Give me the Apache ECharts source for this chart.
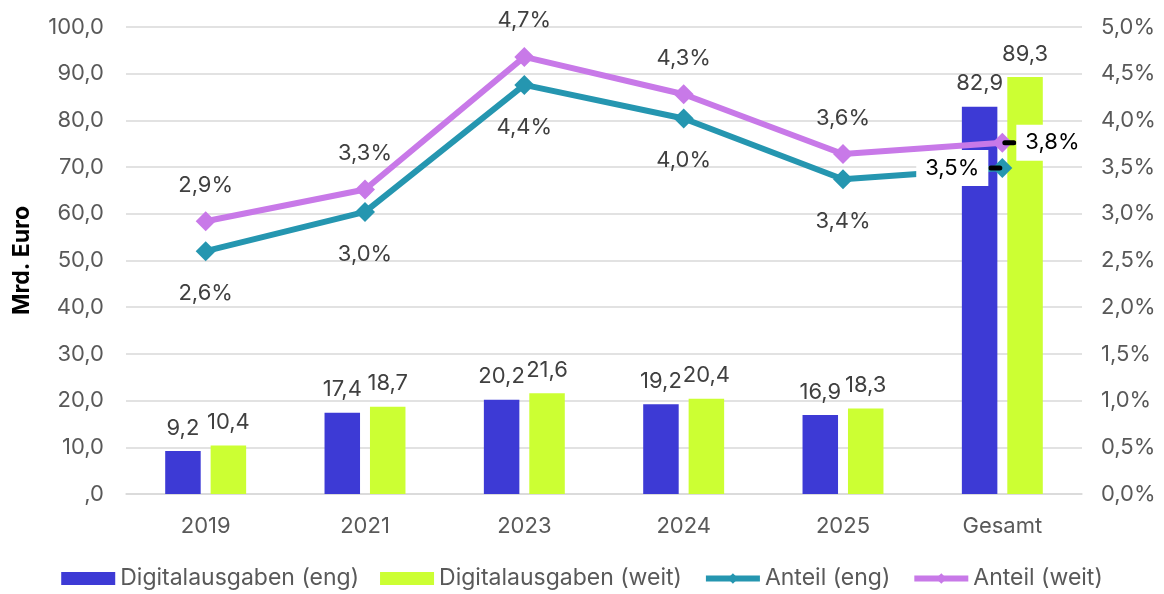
<!DOCTYPE html>
<html>
<head>
<meta charset="utf-8">
<script src="https://cdn.jsdelivr.net/npm/echarts@6/dist/echarts.min.js"></script>
<style>
html,body{margin:0;padding:0;background:#fff;}
#chart{width:1164px;height:594px;}
</style>
</head>
<body>
<div id="chart"></div>
<script>
const categories = ['2019', '2021', '2023', '2024', '2025', 'Gesamt'];
const engSpend = [9.2, 17.4, 20.2, 19.2, 16.9, 82.9];
const weitSpend = [10.4, 18.7, 21.6, 20.4, 18.3, 89.3];
const engShare = [2.60, 3.02, 4.38, 4.02, 3.37, 3.49];
const weitShare = [2.92, 3.26, 4.68, 4.28, 3.64, 3.76];
const seriesNames = ['Digitalausgaben (eng)', 'Digitalausgaben (weit)', 'Anteil (eng)', 'Anteil (weit)'];

const FONT = 'Inter';
const fmt1 = v => v.toFixed(1).replace('.', ',');

const chart = echarts.init(document.getElementById('chart'));

function shareData(arr, side) {
  return arr.map((v, i) => {
    if (i !== arr.length - 1) return v;
    return {
      value: v,
      label: {
        position: side,
        distance: -10,
        formatter: p => side === 'left'
          ? '{box|' + fmt1(p.value) + '%}{ln|}'
          : '{ln|}{box|' + fmt1(p.value) + '%}',
        rich: {
          box: { backgroundColor: '#ffffff', padding: [7, 9], color: '#000000', fontSize: 22, fontFamily: FONT },
          ln: { width: 14, height: 5, backgroundColor: '#000000', borderRadius: 2.5 }
        }
      }
    };
  });
}

const option = {
  backgroundColor: '#ffffff',
  textStyle: { fontFamily: FONT },
  grid: { left: 126, right: 82, top: 27, bottom: 100 },
  legend: {
    top: 562,
    left: 'center',
    itemWidth: 54,
    itemHeight: 13,
    itemGap: 21,
    textStyle: { fontSize: 23, color: '#595959', fontFamily: FONT },
    lineStyle: { width: 6 },
    data: [
      { name: seriesNames[0], icon: 'rect' },
      { name: seriesNames[1], icon: 'rect' },
      { name: seriesNames[2] },
      { name: seriesNames[3] }
    ]
  },
  xAxis: {
    type: 'category',
    data: categories,
    axisLine: { lineStyle: { color: '#d9d9d9', width: 1.5 } },
    axisTick: { show: false },
    axisLabel: { fontSize: 22, color: '#595959', margin: 21, fontFamily: FONT }
  },
  yAxis: [
    {
      type: 'value', min: 0, max: 100, interval: 10,
      name: 'Mrd. Euro', nameLocation: 'middle', nameGap: 92, nameRotate: 90,
      nameTextStyle: { fontSize: 23, fontWeight: 'bold', color: '#000000', fontFamily: FONT },
      axisLine: { show: false }, axisTick: { show: false },
      splitLine: { lineStyle: { color: '#d9d9d9', width: 1.5 } },
      axisLabel: { fontSize: 22, color: '#595959', margin: 22, fontFamily: FONT,
        formatter: v => v === 0 ? ',0' : fmt1(v) }
    },
    {
      type: 'value', min: 0, max: 5, interval: 0.5,
      axisLine: { show: false }, axisTick: { show: false },
      splitLine: { show: false },
      axisLabel: { fontSize: 22, color: '#595959', margin: 19, fontFamily: FONT,
        formatter: v => fmt1(v) + '%' }
    }
  ],
  series: [
    {
      name: seriesNames[0], type: 'bar', data: engSpend,
      barWidth: 35.5, barGap: '28%',
      itemStyle: { color: '#3d3ad5' },
      label: { show: true, position: 'top', distance: 12, fontSize: 22, color: '#404040', fontFamily: FONT,
        formatter: p => fmt1(p.value) }
    },
    {
      name: seriesNames[1], type: 'bar', data: weitSpend,
      barWidth: 35.5, barGap: '28%',
      itemStyle: { color: '#ccff33' },
      label: { show: true, position: 'top', distance: 12, fontSize: 22, color: '#404040', fontFamily: FONT,
        formatter: p => fmt1(p.value) }
    },
    {
      name: seriesNames[2], type: 'line', yAxisIndex: 1, data: shareData(engShare, 'left'),
      symbol: 'diamond', symbolSize: 20,
      lineStyle: { color: '#2596b0', width: 6 },
      itemStyle: { color: '#2596b0' },
      z: 3,
      label: { show: true, position: 'bottom', distance: 21, fontSize: 22, color: '#404040', fontFamily: FONT,
        formatter: p => fmt1(p.value) + '%' }
    },
    {
      name: seriesNames[3], type: 'line', yAxisIndex: 1, data: shareData(weitShare, 'right'),
      symbol: 'diamond', symbolSize: 20,
      lineStyle: { color: '#c879e8', width: 6 },
      itemStyle: { color: '#c879e8' },
      z: 4,
      label: { show: true, position: 'top', distance: 15, fontSize: 22, color: '#404040', fontFamily: FONT,
        formatter: p => fmt1(p.value) + '%' }
    }
  ]
};
chart.setOption(option);
</script>
</body>
</html>
